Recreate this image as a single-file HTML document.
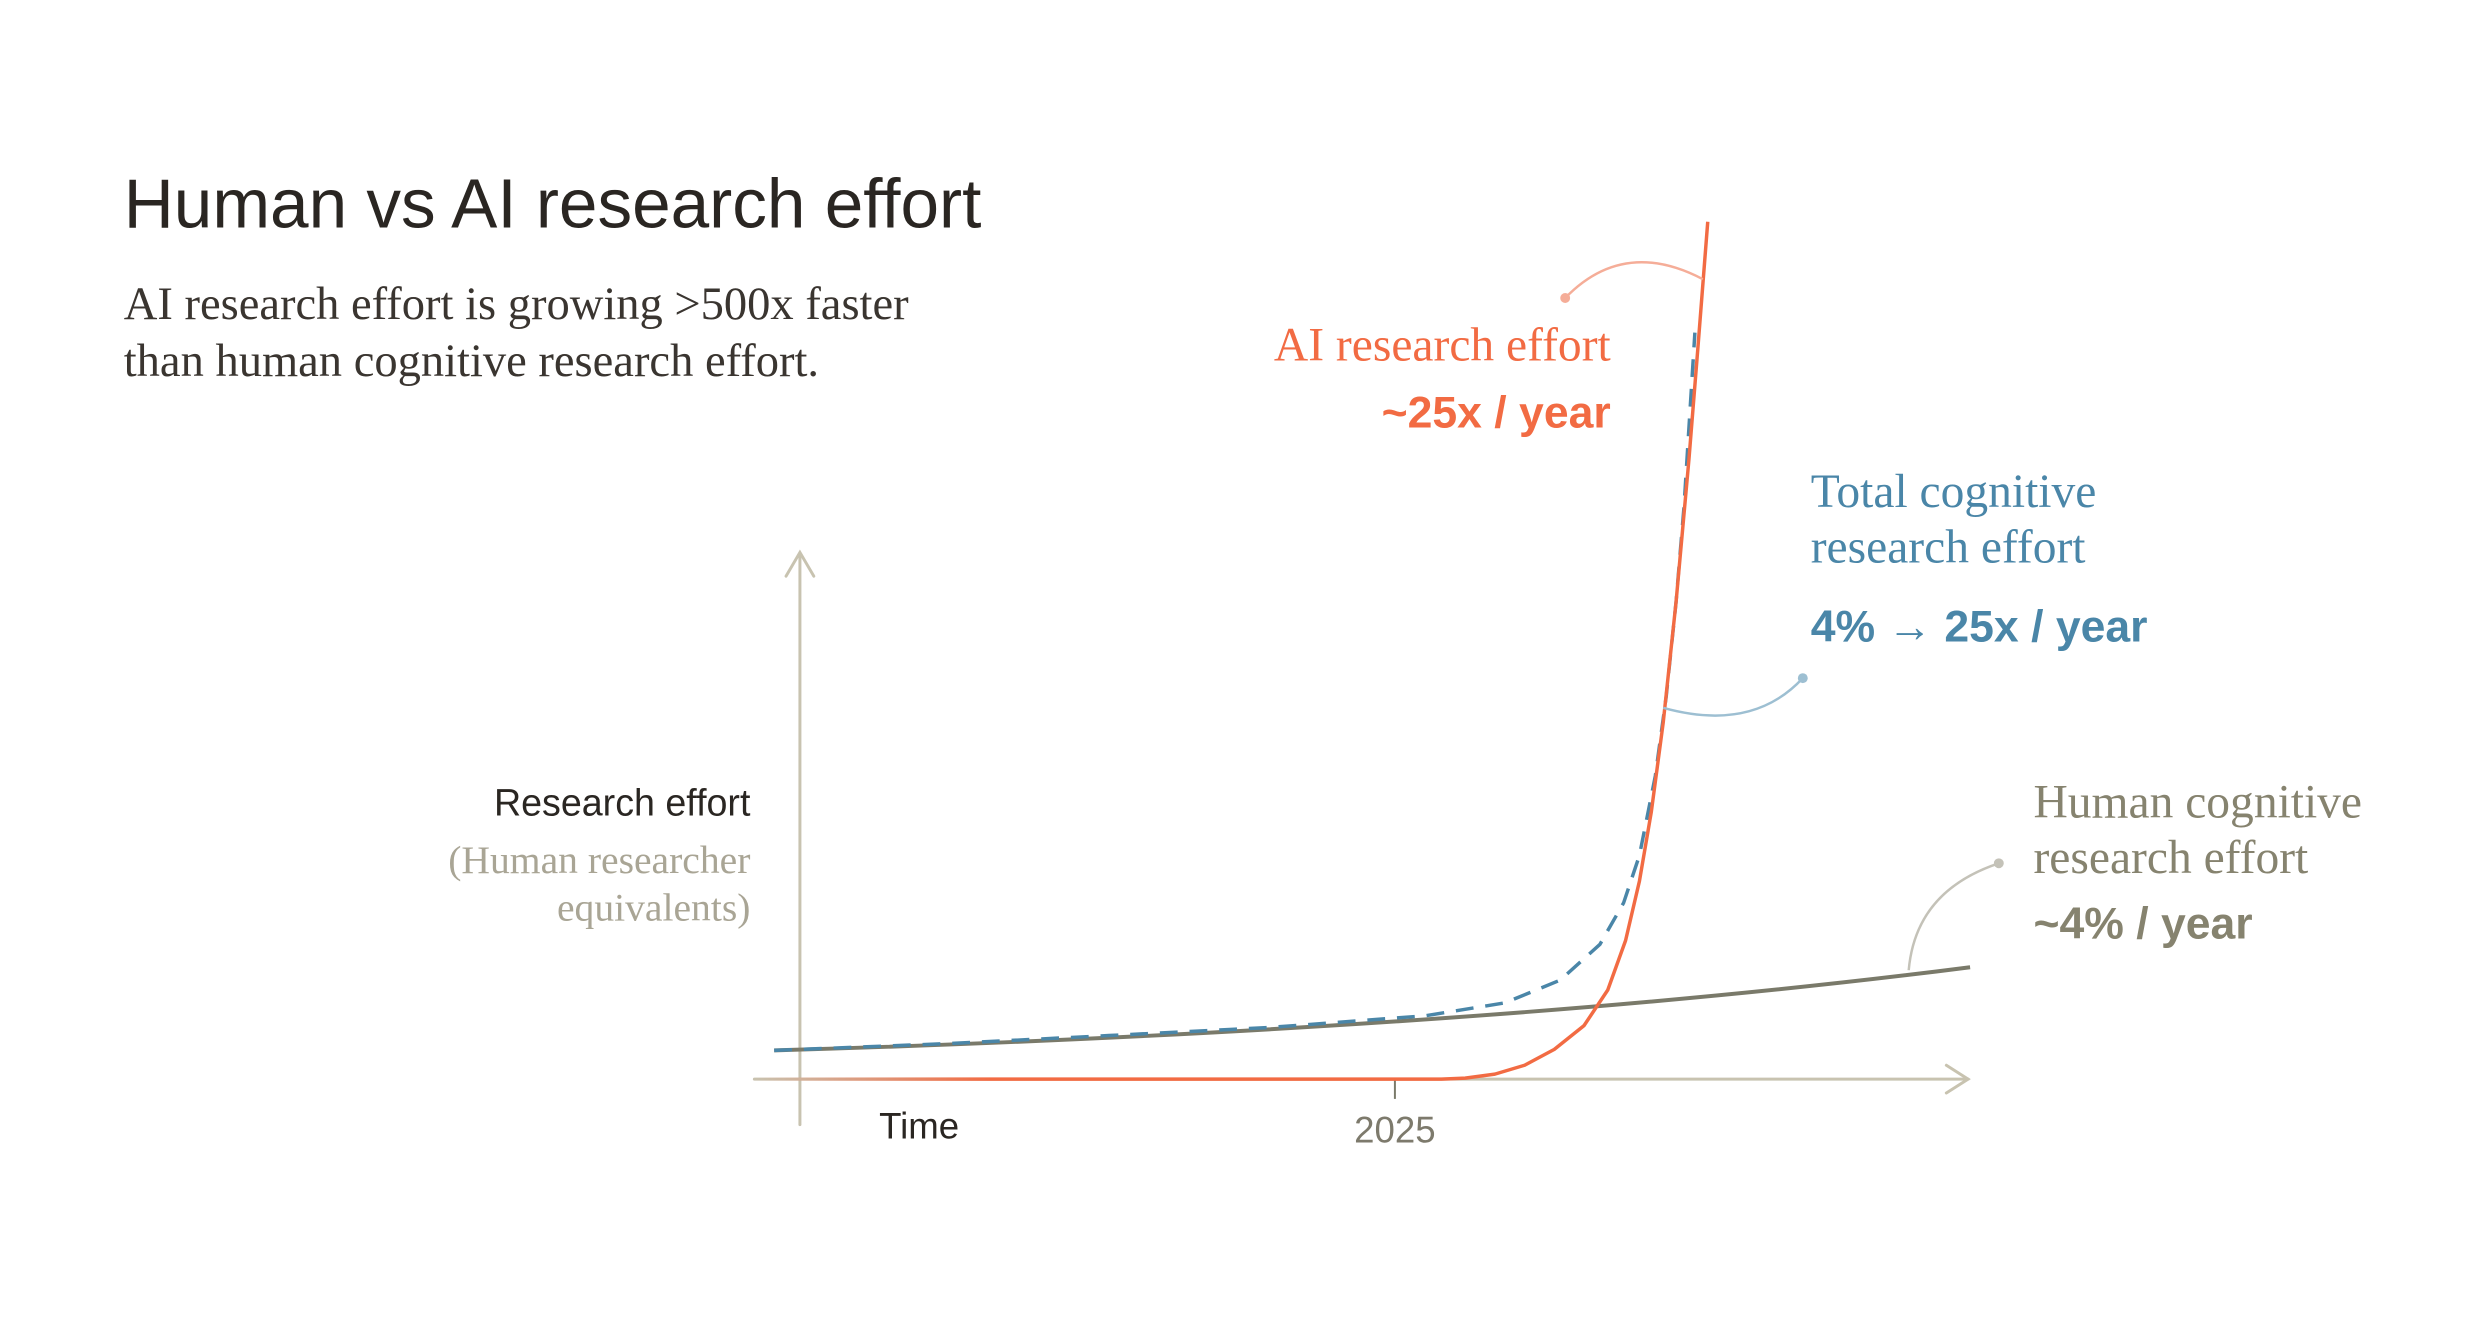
<!DOCTYPE html>
<html><head><meta charset="utf-8"><style>
html,body{margin:0;padding:0;background:#fff;}
svg{display:block;}
.sans{font-family:"Liberation Sans",sans-serif;}
.serif{font-family:"Liberation Serif",serif;}
</style></head><body>
<svg width="2481" height="1334" viewBox="0 0 2481 1334" xmlns="http://www.w3.org/2000/svg">
<defs>
<linearGradient id="og" x1="760" y1="0" x2="1000" y2="0" gradientUnits="userSpaceOnUse">
<stop offset="0" stop-color="#f26b43" stop-opacity="0"/>
<stop offset="1" stop-color="#f26b43" stop-opacity="1"/>
</linearGradient>
</defs>
<g transform="scale(0.99)">
<text x="125" y="230" class="sans" font-size="70" fill="#2a2622">Human vs AI research effort</text>
<text x="125" y="322" class="serif" font-size="47" fill="#3a3530">AI research effort is growing &gt;500x faster</text>
<text x="125" y="380" class="serif" font-size="47" fill="#3a3530">than human cognitive research effort.</text>

<g stroke="#c8c3b0" stroke-width="3" fill="none" stroke-linecap="round">
<line x1="808" y1="560" x2="808" y2="1136"/>
<polyline points="794,582 808,558 822,582"/>
<line x1="762" y1="1090" x2="1988" y2="1090"/>
<polyline points="1966,1076 1988,1090 1966,1104"/>
</g>
<line x1="1409" y1="1090" x2="1409" y2="1110" stroke="#7a7a6a" stroke-width="2"/>
<text x="888" y="1150" class="sans" font-size="37" fill="#2a2622">Time</text>
<text x="1409" y="1154" class="sans" font-size="37" fill="#7d7a6c" text-anchor="middle">2025</text>
<text x="758" y="824" class="sans" font-size="38" fill="#2a2622" text-anchor="end">Research effort</text>
<text x="758" y="882" class="serif" font-size="40" fill="#a9a595" text-anchor="end">(Human researcher</text>
<text x="758" y="930" class="serif" font-size="40" fill="#a9a595" text-anchor="end">equivalents)</text>

<path d="M782,1061 Q1500,1040 1990,977" stroke="#7a7a6a" stroke-width="4" fill="none"/>
<polyline points="782,1061 960,1054 1120,1046 1280,1038 1440,1026 1520,1013 1576,990 1616,954 1640,912 1656,864 1672,784 1683,704 1693,608 1701,512 1707,416 1712,336" stroke="#4a86a8" stroke-width="3.5" fill="none" stroke-dasharray="18,12" stroke-linejoin="round"/>
<polyline points="760,1090 1456,1090 1480,1089 1510,1085 1540,1076 1570,1060 1600,1036 1624,1000 1642,950 1656,890 1668,820 1680,730 1693,608 1706,464 1715,352 1725,224" stroke="url(#og)" stroke-width="3.5" fill="none" stroke-linejoin="round"/>

<path d="M1581,301 Q1640,240 1720,282" stroke="#f5ad98" stroke-width="2.5" fill="none"/>
<circle cx="1581" cy="301" r="5" fill="#f5ad98"/>
<path d="M1821,685 Q1770,740 1680,715" stroke="#9dbfd2" stroke-width="2.5" fill="none"/>
<circle cx="1821" cy="685" r="5" fill="#9dbfd2"/>
<path d="M2019,872 Q1935,900 1928,980" stroke="#c4c2b8" stroke-width="2.5" fill="none"/>
<circle cx="2019" cy="872" r="5" fill="#c4c2b8"/>

<text x="1627" y="364" class="serif" font-size="48" fill="#f26b43" text-anchor="end">AI research effort</text>
<text x="1627" y="432" class="sans" font-size="45" font-weight="bold" fill="#f26b43" text-anchor="end">~25x / year</text>

<text x="1829" y="512" class="serif" font-size="48" fill="#4a86a8">Total cognitive</text>
<text x="1829" y="568" class="serif" font-size="48" fill="#4a86a8">research effort</text>
<text x="1829" y="648" class="sans" font-size="45" font-weight="bold" fill="#4a86a8">4% → 25x / year</text>

<text x="2054" y="826" class="serif" font-size="48" fill="#86836f">Human cognitive</text>
<text x="2054" y="882" class="serif" font-size="48" fill="#86836f">research effort</text>
<text x="2054" y="948" class="sans" font-size="45" font-weight="bold" fill="#86836f">~4% / year</text>
</g>
</svg>
</body></html>
